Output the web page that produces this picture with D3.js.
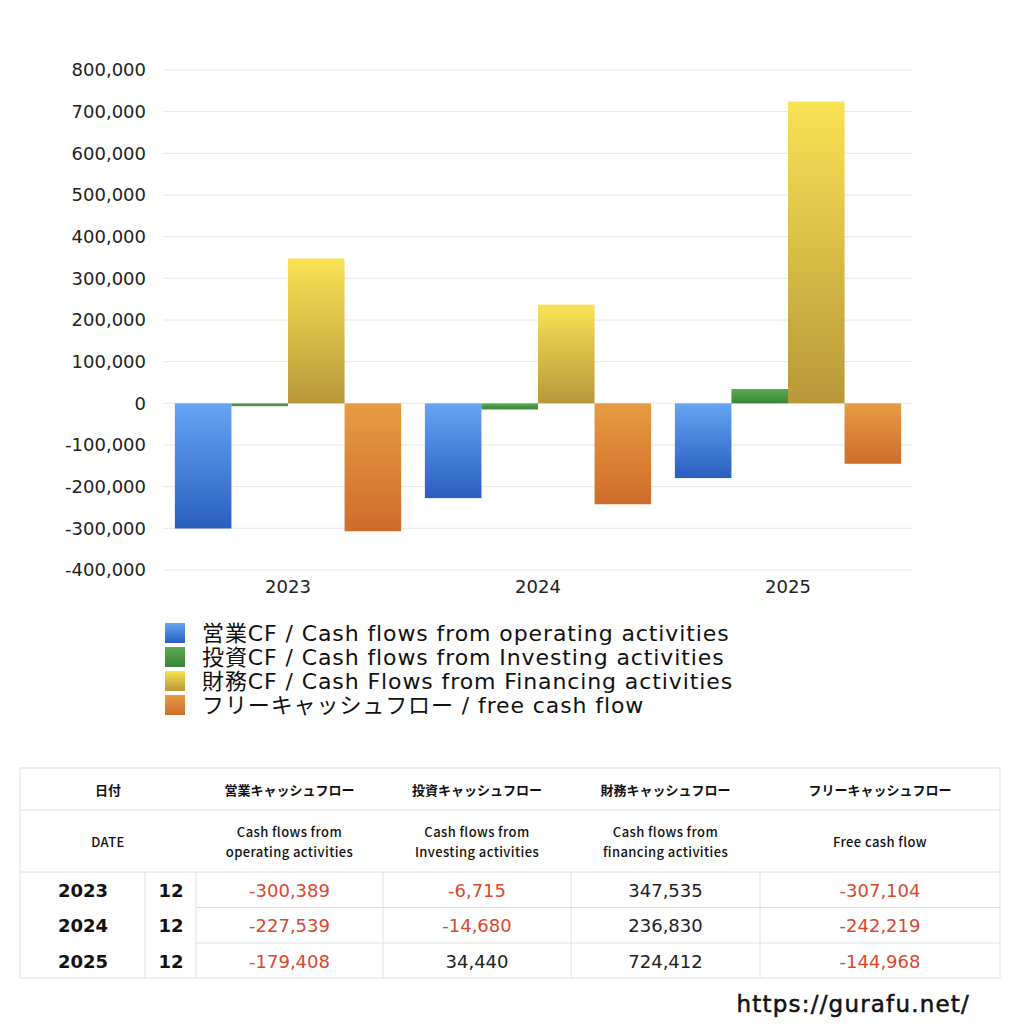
<!DOCTYPE html>
<meta charset="utf-8">
<script src="https://d3js.org/d3.v7.min.js"></script>
<style>
  body { margin: 0; background: #fff; }
  svg { font-family: "DejaVu Sans", "Noto Sans CJK JP", sans-serif; }
</style>
<div id="chart"></div>
<script>
// data
const years = ["2023", "2024", "2025"];
const months = ["12", "12", "12"];
const seriesKeys = ["op", "inv", "fin", "free"];
const legendLabels = [
  "営業CF / Cash flows from operating activities",
  "投資CF / Cash flows from Investing activities",
  "財務CF / Cash Flows from Financing activities",
  "フリーキャッシュフロー / free cash flow"
];
const operating = [-300389, -227539, -179408];
const investing = [-6715, -14680, 34440];
const financing = [347535, 236830, 724412];
const freeCash = [-307104, -242219, -144968];
const yTicks = [-400000, -300000, -200000, -100000, 0, 100000, 200000, 300000, 400000, 500000, 600000, 700000, 800000];
const headJa = ["日付", "営業キャッシュフロー", "投資キャッシュフロー", "財務キャッシュフロー", "フリーキャッシュフロー"];
const headEn = [["DATE"], ["Cash flows from", "operating activities"], ["Cash flows from", "Investing activities"], ["Cash flows from", "financing activities"], ["Free cash flow"]];

const seriesValues = [operating, investing, financing, freeCash];
const gradStops = [
  ["#66a5f2", "#2a5ec0"],
  ["#5eaa55", "#378536"],
  ["#f8e354", "#b8983a"],
  ["#e69c42", "#cf6c2c"]
];

// plain hyphen minus like the original
const fmt = v => d3.format(",")(v).replace("\u2212", "-");

const svg = d3.select("#chart").append("svg")
  .attr("width", 1024).attr("height", 1024);

const defs = svg.append("defs");
gradStops.forEach((c, i) => {
  const g = defs.append("linearGradient").attr("id", "grad" + i)
    .attr("x1", 0).attr("y1", 0).attr("x2", 0).attr("y2", 1);
  g.append("stop").attr("offset", "0%").attr("stop-color", c[0]);
  g.append("stop").attr("offset", "100%").attr("stop-color", c[1]);
});

// chart area
const plot = {left: 163, right: 913, top: 70, bottom: 570};

const x0 = d3.scaleBand().domain(years).range([plot.left, plot.right]).padding(0);
const x1 = d3.scaleBand().domain(seriesKeys).range([0, x0.bandwidth()]).paddingOuter(0.21).paddingInner(0);
const y = d3.scaleLinear().domain([-400000, 800000]).range([plot.bottom, plot.top]);

// grid
svg.append("g").selectAll("line").data(yTicks).join("line")
  .attr("x1", plot.left).attr("x2", plot.right)
  .attr("y1", d => y(d)).attr("y2", d => y(d))
  .attr("stroke", "#e8e8e8").attr("stroke-width", 1);

// y axis
const yAxis = svg.append("g")
  .attr("transform", `translate(${plot.left - 14},0)`)
  .call(d3.axisLeft(y).tickValues(yTicks).tickSize(0).tickFormat(fmt));
yAxis.select(".domain").remove();
yAxis.selectAll("text").attr("font-size", 18).attr("fill", "#222")
  .attr("font-family", "'DejaVu Sans', sans-serif");

// x axis
const xAxis = svg.append("g")
  .attr("transform", `translate(0,${plot.bottom + 7})`)
  .call(d3.axisBottom(x0).tickSize(0));
xAxis.select(".domain").remove();
xAxis.selectAll("text").attr("font-size", 18).attr("fill", "#222")
  .attr("font-family", "'DejaVu Sans', sans-serif");

// bars
const rows = years.map((yr, i) => ({year: yr, vals: seriesKeys.map((k, j) => ({key: k, idx: j, value: seriesValues[j][i]}))}));
svg.append("g").selectAll("g").data(rows).join("g")
  .attr("transform", d => `translate(${x0(d.year)},0)`)
  .selectAll("rect").data(d => d.vals).join("rect")
    .attr("x", d => x1(d.key))
    .attr("width", x1.bandwidth())
    .attr("y", d => y(Math.max(0, d.value)))
    .attr("height", d => Math.abs(y(d.value) - y(0)))
    .attr("fill", d => `url(#grad${d.idx})`);

// legend
const legend = svg.append("g").attr("transform", "translate(165,622)");
legendLabels.forEach((lab, i) => {
  const g = legend.append("g").attr("transform", `translate(0,${i * 24})`);
  g.append("rect").attr("width", 20).attr("height", 20).attr("y", 1).attr("fill", `url(#grad${i})`);
  g.append("text").attr("x", 37).attr("y", 19).attr("font-size", 22)
    .attr("letter-spacing", 0.9).attr("fill", "#111").text(lab);
});

// table
const tb = svg.append("g");
const tLeft = 20, tRight = 1000;
const rowY = [768, 810, 872, 907.5, 943, 978];
const colX = [20, 196, 383, 571, 760, 1000];
const lineCol = "#e0e0e0";

tb.append("rect").attr("x", tLeft).attr("y", rowY[0]).attr("width", tRight - tLeft).attr("height", rowY[5] - rowY[0])
  .attr("fill", "none").attr("stroke", lineCol);
[rowY[1], rowY[2]].forEach(yy => tb.append("line").attr("x1", tLeft).attr("x2", tRight).attr("y1", yy).attr("y2", yy).attr("stroke", lineCol));
[rowY[3], rowY[4]].forEach(yy => tb.append("line").attr("x1", 196).attr("x2", tRight).attr("y1", yy).attr("y2", yy).attr("stroke", lineCol));
[145, 196, 383, 571, 760].forEach(xx => tb.append("line").attr("x1", xx).attr("x2", xx).attr("y1", rowY[2]).attr("y2", rowY[5]).attr("stroke", lineCol));

headJa.forEach((h, i) => {
  const cx = (colX[i] + colX[i + 1]) / 2;
  tb.append("text").attr("x", cx).attr("y", 795).attr("text-anchor", "middle")
    .attr("font-size", 13).attr("font-weight", "bold").attr("fill", "#111")
    .attr("font-family", "'Noto Sans CJK JP', sans-serif").text(h);
  const lines = headEn[i];
  lines.forEach((l, k) => {
    const yy = lines.length === 1 ? 847 : 837 + k * 20;
    tb.append("text").attr("x", cx).attr("y", yy).attr("text-anchor", "middle")
      .attr("font-size", 13).attr("font-weight", "500").attr("fill", "#111")
      .attr("font-family", "'Noto Sans CJK JP', sans-serif").attr("letter-spacing", 0.4).text(l);
  });
});

years.forEach((yr, i) => {
  const cy = (rowY[2 + i] + rowY[3 + i]) / 2 + 7;
  tb.append("text").attr("x", 83).attr("y", cy).attr("text-anchor", "middle")
    .attr("font-size", 18).attr("font-weight", "bold").attr("fill", "#111").text(yr);
  tb.append("text").attr("x", 171).attr("y", cy).attr("text-anchor", "middle")
    .attr("font-size", 18).attr("font-weight", "bold").attr("fill", "#111").text(months[i]);
  seriesValues.forEach((vals, j) => {
    const cx = (colX[j + 1] + colX[j + 2]) / 2;
    tb.append("text").attr("x", cx).attr("y", cy).attr("text-anchor", "middle")
      .attr("font-size", 18).attr("fill", vals[i] < 0 ? "#d9482f" : "#222")
      .text(fmt(vals[i]));
  });
});

// watermark
svg.append("text").attr("x", 970).attr("y", 1012).attr("text-anchor", "end")
  .attr("font-size", 23).attr("letter-spacing", 1.2)
  .attr("fill", "#111").attr("stroke", "#111").attr("stroke-width", 0.5)
  .text("https://gurafu.net/");
</script>
